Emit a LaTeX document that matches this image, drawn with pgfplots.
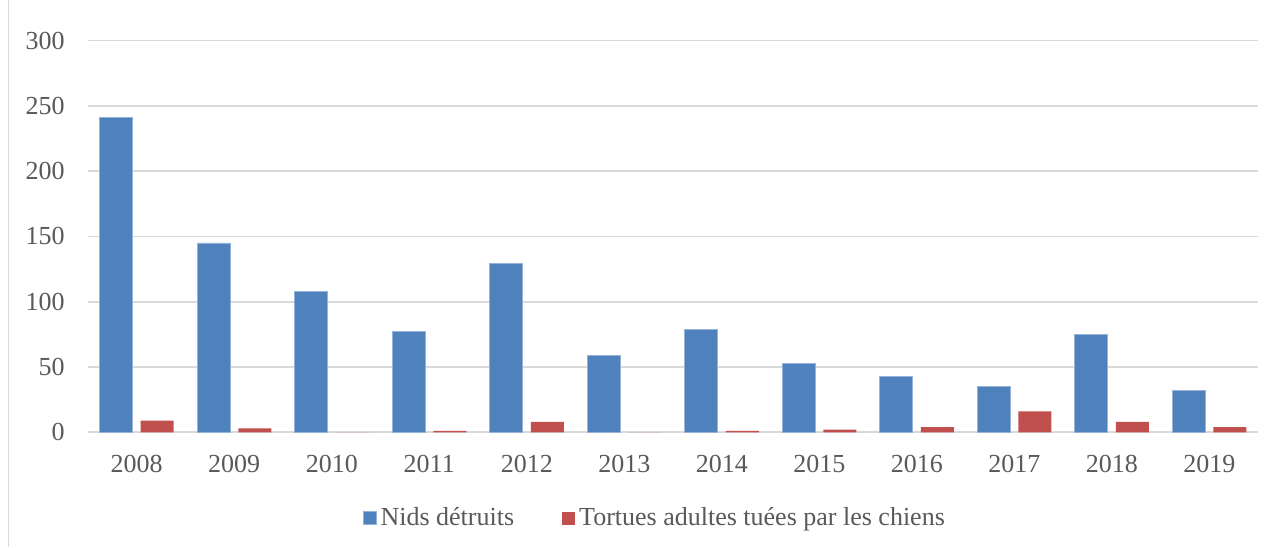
\documentclass[border=0pt]{standalone}
\usepackage{pgfplots}
\pgfplotsset{compat=1.18}
\usepackage{fontspec}
\setmainfont{Liberation Serif}
\definecolor{cblue}{HTML}{4F81BD}
\definecolor{cred}{HTML}{C0504D}
\definecolor{gridc}{HTML}{D9D9D9}
\definecolor{txt}{HTML}{595959}
\begin{document}
\begin{tikzpicture}
\useasboundingbox (-44pt,-57.35pt) rectangle (593.5pt,216.15pt);
\draw[gridc, line width=0.8pt] (-39.75pt,-57.35pt) -- (-39.75pt,216.15pt);
\begin{axis}[
  at={(0,0)}, anchor=south west,
  scale only axis, width=585pt, height=195.9pt,
  xmin=-0.5, xmax=11.5, ymin=0, ymax=300,
  ybar=4pt, bar width=16.5pt,
  xtick={0,...,11},
  xticklabels={2008,2009,2010,2011,2012,2013,2014,2015,2016,2017,2018,2019},
  ytick={0,50,...,300},
  ymajorgrids, grid style={gridc, line width=0.9pt},
  axis line style={draw=none},
  major tick length=0pt,
  tick label style={font=\fontsize{13}{15}\selectfont, text=txt, inner sep=0pt},
  /pgf/number format/assume math mode=true,
  yticklabel style={anchor=east, xshift=-11.5pt},
  xticklabel style={anchor=north, yshift=-11.35pt},
  legend style={draw=none, fill=none, at={(0.4853,-0.219)}, anchor=center,
    legend columns=2, font=\fontsize{13}{15}\selectfont, text=txt,
    /tikz/every even column/.append style={column sep=22pt},
    cells={anchor=west}},
  legend image code/.code={\fill[#1] (0pt,-3.25pt) rectangle (6.5pt,3.25pt);},
]
\addplot[fill=cblue, draw=cblue!60!white, line width=0.4pt] coordinates {
 (0,241) (1,145) (2,108) (3,77) (4,129) (5,59) (6,79) (7,53) (8,43) (9,35) (10,75) (11,32)};
\addplot[fill=cred, draw=none] coordinates {
 (0,9) (1,3) (2,0) (3,1) (4,8) (5,0) (6,1) (7,2) (8,4) (9,16) (10,8) (11,4)};
\legend{Nids détruits, Tortues adultes tuées par les chiens}
\end{axis}
\end{tikzpicture}
\end{document}
